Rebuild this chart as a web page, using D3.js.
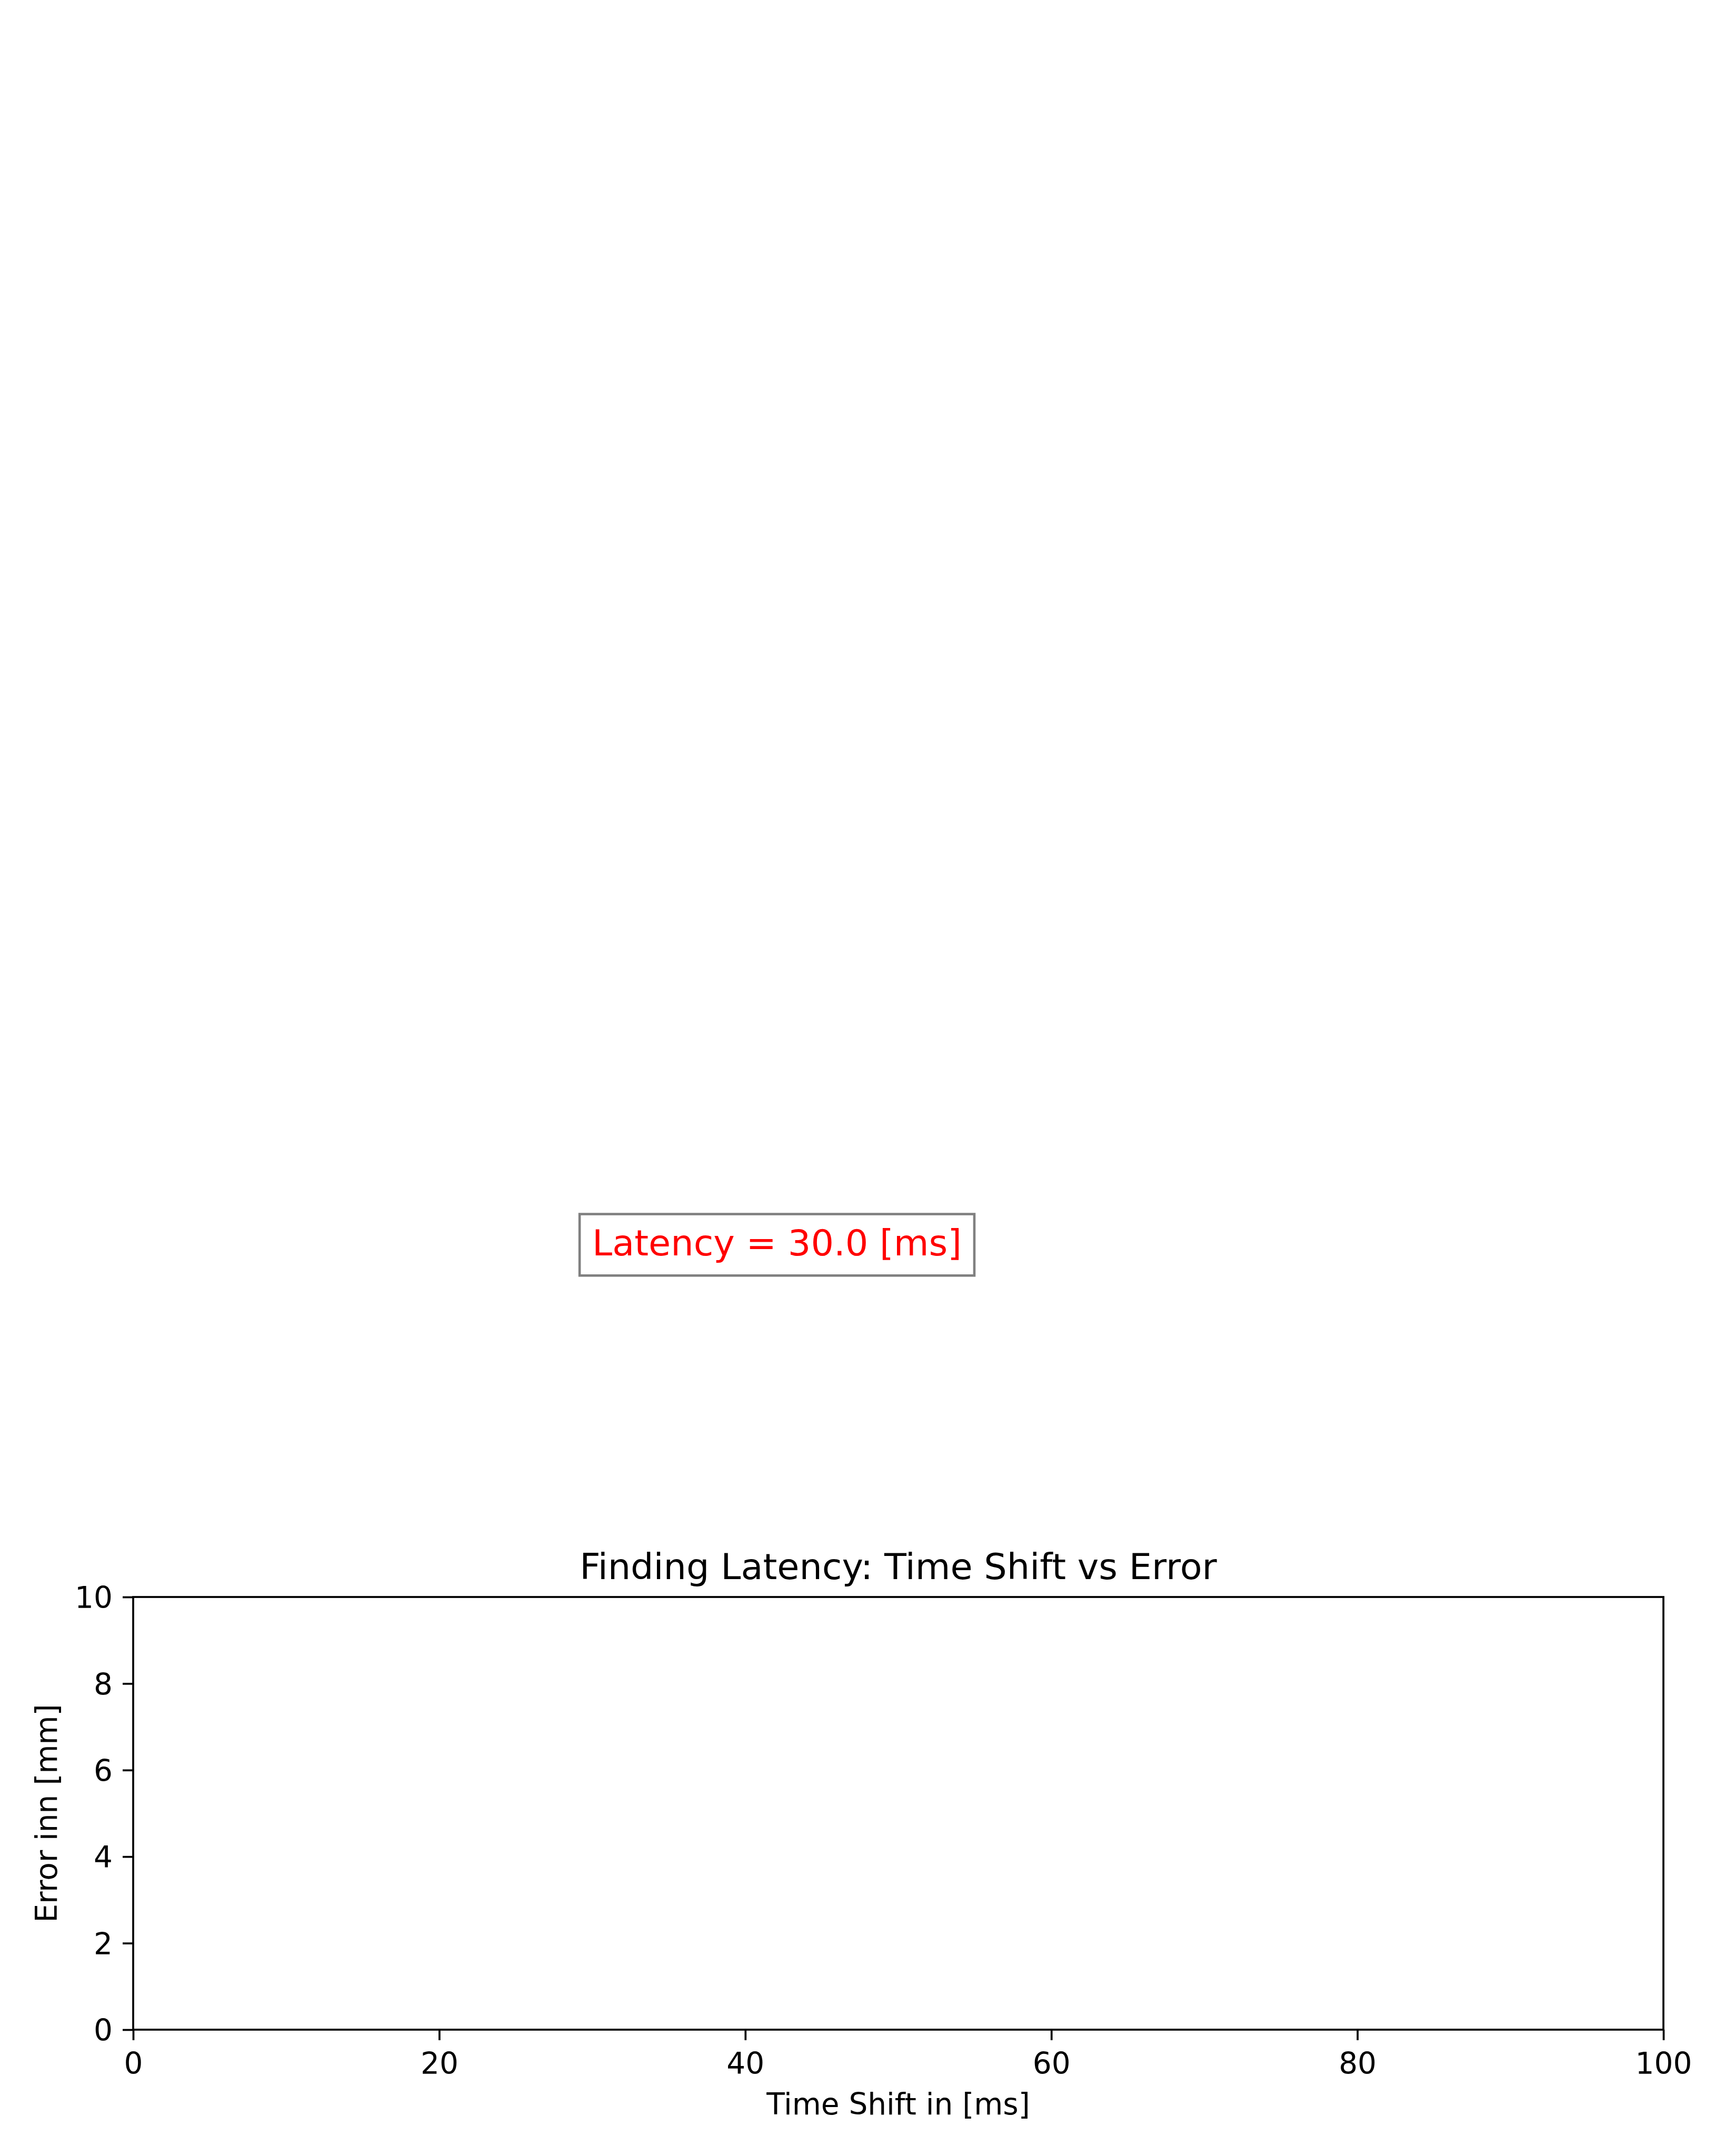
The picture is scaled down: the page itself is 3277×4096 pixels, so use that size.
<!DOCTYPE html>
<html><head><meta charset="utf-8">
<script src="https://cdn.jsdelivr.net/npm/d3@7"></script>
<style>html,body{margin:0;padding:0;background:#fff;overflow:hidden}</style>
</head><body>
<script>
// ---- data ----
const xTicks = [0, 20, 40, 60, 80, 100];
const yTicks = [0, 2, 4, 6, 8, 10];
const xDomain = [0, 100];
const yDomain = [0, 10];
const latencyMs = [30.0];
const annotationPos = [30, 17.9]; // data coordinates of the annotation text
const titleText = "Finding Latency: Time Shift vs Error";
const xLabelText = "Time Shift in [ms]";
const yLabelText = "Error inn [mm]";

// ---- layout ----
const W = 3277, H = 4096;
const L = 253, R = 3160, T = 3034, B = 3856;
const FONT = "'DejaVu Sans', sans-serif";
const LW = 3.7;
const TICKFS = 56.5, LABELFS = 56.5, BIG = 68.5, TICK = 20;

const svg = d3.select("body").append("svg")
  .attr("width", W).attr("height", H)
  .attr("viewBox", `0 0 ${W} ${H}`);
svg.append("rect").attr("width", W).attr("height", H).attr("fill", "#fff");

const x = d3.scaleLinear().domain(xDomain).range([L, R]);
const y = d3.scaleLinear().domain(yDomain).range([B, T]);

// x axis
const gx = svg.append("g").attr("transform", `translate(0,${B})`)
  .call(d3.axisBottom(x).tickValues(xTicks).tickSize(TICK).tickFormat(d3.format("d")));
gx.select(".domain").remove();
gx.selectAll(".tick line").attr("stroke", "#000").attr("stroke-width", LW);
gx.selectAll(".tick text").attr("y", 84).attr("dy", 0)
  .attr("font-family", FONT).attr("font-size", TICKFS).attr("fill", "#000");

// y axis
const gy = svg.append("g").attr("transform", `translate(${L},0)`)
  .call(d3.axisLeft(y).tickValues(yTicks).tickSize(TICK).tickFormat(d3.format("d")));
gy.select(".domain").remove();
gy.selectAll(".tick line").attr("stroke", "#000").attr("stroke-width", LW);
gy.selectAll(".tick text").attr("x", -(L - 214)).attr("dy", "0.365em")
  .attr("font-family", FONT).attr("font-size", TICKFS).attr("fill", "#000");

// spines
svg.append("rect").attr("x", L).attr("y", T).attr("width", R - L).attr("height", B - T)
  .attr("fill", "none").attr("stroke", "#000").attr("stroke-width", LW);

// title
svg.append("text").attr("x", (L + R) / 2).attr("y", 3000)
  .attr("text-anchor", "middle").attr("font-family", FONT).attr("font-size", BIG)
  .attr("fill", "#000").text(titleText);

// x label
svg.append("text").attr("x", (L + R) / 2).attr("y", 4017)
  .attr("text-anchor", "middle").attr("font-family", FONT).attr("font-size", LABELFS)
  .attr("fill", "#000").text(xLabelText);

// y label
svg.append("text").attr("transform", `translate(108,${(T + B) / 2}) rotate(-90)`)
  .attr("text-anchor", "middle").attr("font-family", FONT).attr("font-size", LABELFS)
  .attr("fill", "#000").text(yLabelText);

// latency annotation with box
const annG = svg.append("g");
const ax = x(annotationPos[0]), ay = y(annotationPos[1]);
const annText = annG.append("text")
  .attr("x", ax).attr("y", ay)
  .attr("font-family", FONT).attr("font-size", BIG).attr("fill", "#ff0000")
  .text(`Latency = ${latencyMs[0].toFixed(1)} [ms]`);
const tw = annText.node().getComputedTextLength();
const padX = 24;
annG.insert("rect", "text")
  .attr("x", ax - padX).attr("y", ay - 1.14 * BIG)
  .attr("width", tw + 2 * padX).attr("height", (1.14 + 0.565) * BIG)
  .attr("fill", "#fff").attr("stroke", "#808080").attr("stroke-width", 4.6);
</script>
</body></html>
